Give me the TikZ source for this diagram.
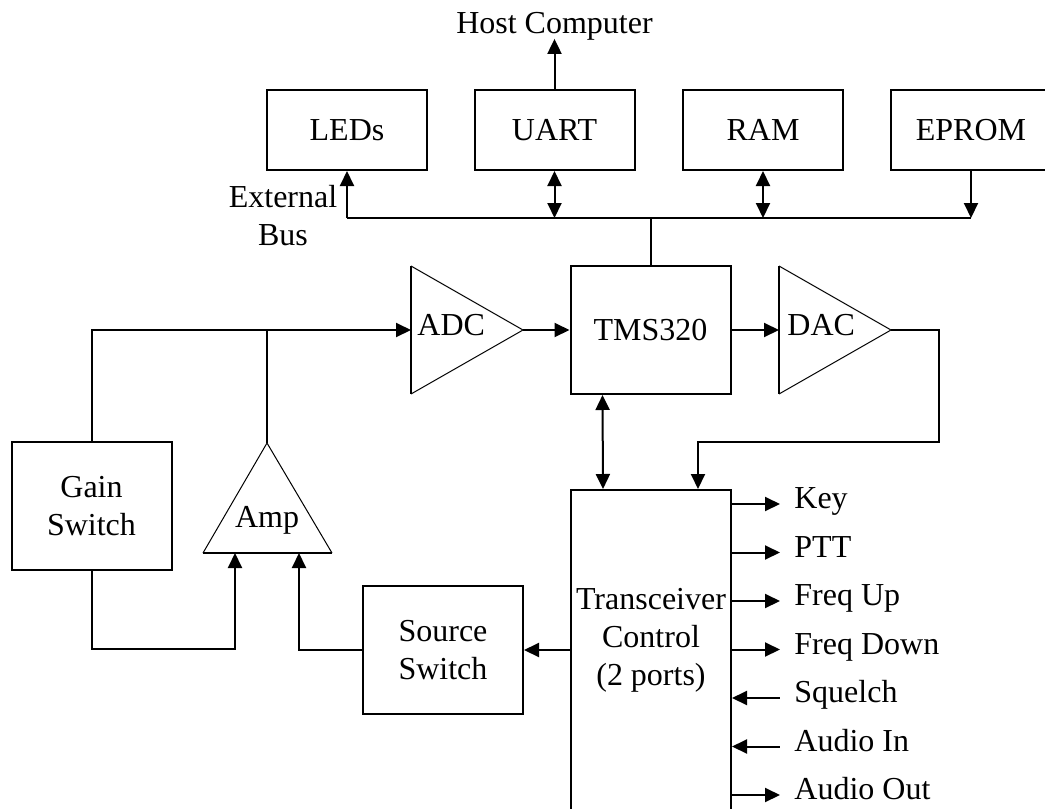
\documentclass[tikz,border=0pt]{standalone}
\usepackage{fontspec}
\setmainfont{Liberation Serif}
\usetikzlibrary{arrows.meta}

\begin{document}
\begin{tikzpicture}[
  x=0.5pt, y=-0.5pt,
  >={Triangle[length=7.5pt,width=7pt]},
  every node/.style={font=\fontsize{16}{19}\selectfont},
  block/.style={draw, line width=1pt, minimum width=80pt, minimum height=40pt, inner sep=0pt, align=center},
  wire/.style={line width=1pt},
  tri/.style={line width=0.5pt, line join=miter},
  sig/.style={anchor=west, inner xsep=7pt, inner ysep=0pt, text height=0.7em, text depth=0.25em}
]
\useasboundingbox (0,0) rectangle (1045,809);
\clip (0,0) rectangle (1045,809);

% peripherals on the external bus
\node[block] (leds) at (347,130) {LEDs};
\node[block] (uart) at (554.5,130) {UART};
\node[block] (ram) at (763,130) {RAM};
\node[block] (eprom) at (971,130) {EPROM};
\node[inner ysep=0pt, text height=0.7em, text depth=0.25em] (host) at (554.5,29) {Host Computer};
\node[align=center, inner sep=0pt] (extbus) at (283,216) {External\\Bus};

% processor and converters
\node[block, minimum height=64pt] (tms) at (650.5,330) {TMS320};
\coordinate (adcin) at (411,330);
\coordinate (adcout) at (523,330);
\coordinate (dacin) at (779,330);
\coordinate (dacout) at (891,330);
\draw[tri] (411,266) -- (adcout) -- (411,394);
\draw[wire] (411,266) -- (411,394);
\draw[tri] (779,266) -- (dacout) -- (779,394);
\draw[wire] (779,266) -- (779,394);
\node[anchor=base west, inner sep=0pt] (adclbl) at (417,335) {ADC};
\node[anchor=base west, inner sep=0pt] (daclbl) at (787,335) {DAC};

% input side
\node[block, minimum height=64pt] (gain) at (91.5,506) {Gain\\Switch};
\node[block, minimum height=64pt] (src) at (443,650) {Source\\Switch};
\coordinate (ampapex) at (267,443);
\coordinate (ampina) at (235,553);
\coordinate (ampinb) at (299,553);
\coordinate (gainturn) at (235,649);
\draw[tri] (203,553) -- (ampapex) -- (332,553);
\draw[wire] (203,553) -- (332,553);
\node[anchor=base, inner sep=0pt] (amplbl) at (267,527) {Amp};

% transceiver control
\node[block, minimum height=170pt] (tc) at (651,660) {};
\node[align=center, inner sep=0pt] (tclbl) at (651,640) {Transceiver\\Control\\(2 ports)};
\node[sig] (key) at (780,504) {Key};
\node[sig] (ptt) at (780,552.5) {PTT};
\node[sig] (frequp) at (780,601) {Freq Up};
\node[sig] (freqdown) at (780,649.5) {Freq Down};
\node[sig] (squelch) at (780,698) {Squelch};
\node[sig] (audioin) at (780,746.5) {Audio In};
\node[sig] (audioout) at (780,795) {Audio Out};

% bus
\coordinate (busl) at (347,218);
\coordinate (busr) at (971,218);
\coordinate (dacturn) at (939,442);
\draw[wire] (busl) -- (busr);
\draw[wire,->] (busl) -- (leds.south);
\draw[wire,<->] (uart.south) -- (uart.south |- busl);
\draw[wire,<->] (ram.south) -- (ram.south |- busl);
\draw[wire,->] (eprom.south) -- (busr);
\draw[wire] (tms.north) -- (tms.north |- busl);
\draw[wire,->] (uart.north) -- (host.south);

% signal path
\draw[wire,->] (gain.north) |- (adcin);
\draw[wire] (ampapex) -- (ampapex |- adcin);
\draw[wire,->] (adcout) -- (tms.west);
\draw[wire,->] (tms.east) -- (dacin);
\draw[wire,->] (dacout) -| (dacturn) -| ([xshift=23.5pt]tc.north);
\draw[wire,<->] ([xshift=-24pt]tms.south) -- ([xshift=-24pt]tc.north);
\draw[wire,->] (gain.south) |- (gainturn) -- (ampina);
\draw[wire,->] (src.west) -| (ampinb);
\draw[wire,->] (tc.west |- src.east) -- (src.east);

% transceiver lines
\draw[wire,->] (tc.east |- key.west) -- (key.west);
\draw[wire,->] (tc.east |- ptt.west) -- (ptt.west);
\draw[wire,->] (tc.east |- frequp.west) -- (frequp.west);
\draw[wire,->] (tc.east |- freqdown.west) -- (freqdown.west);
\draw[wire,<-] (tc.east |- squelch.west) -- (squelch.west);
\draw[wire,<-] (tc.east |- audioin.west) -- (audioin.west);
\draw[wire,->] (tc.east |- audioout.west) -- (audioout.west);
\end{tikzpicture}
\end{document}
